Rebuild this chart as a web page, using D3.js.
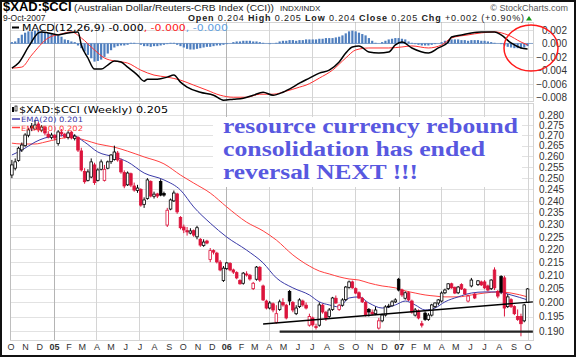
<!DOCTYPE html>
<html><head><meta charset="utf-8">
<script src="https://cdn.jsdelivr.net/npm/d3@7/dist/d3.min.js"></script>
<style>body{margin:0;background:#fff}svg{display:block}text{font-family:"Liberation Sans",Arial,sans-serif}</style>
</head><body><svg id="c" width="576" height="357"></svg>
<script>
// ---------- DATA ----------
const firstWeek = "2004-10-04";
const openP = [.2514,.2545,.2580,.2630,.2650,.2700,.2745,.2730,.2755,.2725,.2740,.2705,.2690,.2700,.2660,.2715,.2705,.2690,.2715,.2685,
.2690,.2625,.2530,.2490,.2505,.2560,.2490,.2540,.2490,.2545,.2575,.2585,.2615,.2580,.2525,.2470,.2520,.2465,.2445,.2450,
.2385,.2410,.2485,.2420,.2430,.2485,.2432,.2298,.2365,.2400,.2430,.2330,.2290,.2275,.2265,.2275,.2250,.2240,.2215,.2233,
.2160,.2195,.2185,.2150,.2080,.2125,.2145,.2120,.2110,.2080,.2070,.2105,.2100,.2050,.2085,.2130,.2060,.2005,.1980,.1995,
.1930,.1975,.2000,.1990,.2040,.2000,.1960,.1985,.2005,.1990,.1920,.1945,.1915,.1920,.1990,.1965,.1950,.1975,.2015,.1975,
.1990,.2010,.2055,.2075,.2050,.2035,.2015,.2000,.1975,.1965,.1960,.1910,.1935,.1955,.1985,.1988,.2002,.2085,.2045,.2015,
.2035,.2005,.1955,.1970,.1925,.1962,.1940,.1955,.1985,.1998,.2005,.2035,.2050,.2068,.2055,.2035,.2065,.2048,.2005,.2060,
.2030,.2065,.2075,.2075,.2060,.2050,.2120,.2040,.2095,.2090,.1985,.2010,.1985,.1950,.1950,.1935,.2000];
const highP = [.2583,.2590,.2645,.2665,.2710,.2735,.2760,.2775,.2765,.2750,.2745,.2720,.2712,.2705,.2725,.2730,.2712,.2720,.2722,.2705,
.2695,.2640,.2545,.2540,.2590,.2570,.2545,.2585,.2560,.2580,.2610,.2650,.2625,.2590,.2535,.2530,.2525,.2480,.2470,.2455,
.2415,.2500,.2490,.2440,.2435,.2495,.2440,.2370,.2410,.2445,.2435,.2335,.2300,.2290,.2285,.2280,.2295,.2245,.2240,.2238,
.2205,.2200,.2190,.2158,.2135,.2150,.2150,.2125,.2115,.2085,.2112,.2115,.2105,.2075,.2135,.2135,.2065,.2010,.2005,.2000,
.1990,.2010,.2015,.1995,.2045,.2005,.1990,.2015,.2010,.2000,.1960,.1950,.1925,.2000,.1995,.1970,.1980,.2020,.2025,.1995,
.2015,.2060,.2080,.2080,.2055,.2040,.2020,.2005,.1980,.1975,.1985,.1945,.1960,.1990,.1995,.2008,.2015,.2090,.2050,.2040,
.2040,.2010,.1980,.1975,.1935,.1968,.1962,.1995,.2000,.2012,.2040,.2050,.2070,.2072,.2058,.2060,.2070,.2052,.2028,.2090,
.2035,.2082,.2080,.2082,.2065,.2085,.2130,.2045,.2100,.2098,.2030,.2015,.1990,.1975,.1960,.1995,.2052];
const lowP = [.2500,.2535,.2575,.2620,.2645,.2690,.2720,.2725,.2715,.2715,.2700,.2685,.2680,.2675,.2650,.2695,.2685,.2680,.2680,.2675,
.2620,.2530,.2475,.2485,.2500,.2470,.2485,.2535,.2485,.2540,.2565,.2580,.2575,.2520,.2455,.2465,.2460,.2440,.2435,.2375,
.2370,.2405,.2415,.2410,.2412,.2420,.2418,.2290,.2360,.2395,.2345,.2280,.2265,.2255,.2260,.2250,.2240,.2210,.2210,.2220,
.2150,.2180,.2145,.2115,.2075,.2120,.2115,.2105,.2085,.2065,.2065,.2095,.2080,.2045,.2080,.2075,.2005,.1975,.1975,.1965,
.1925,.1970,.1985,.1940,.1990,.1965,.1955,.1980,.1985,.1975,.1915,.1915,.1905,.1915,.1960,.1935,.1945,.1970,.1995,.1970,
.1985,.2005,.2050,.2050,.2030,.2012,.1998,.1950,.1950,.1955,.1955,.1905,.1930,.1950,.1980,.1985,.1998,.2040,.2020,.2010,
.2005,.1960,.1950,.1940,.1912,.1935,.1935,.1950,.1980,.1990,.2000,.2030,.2045,.2050,.2030,.2030,.2045,.2028,.2000,.2055,
.2012,.2060,.2060,.2048,.2040,.2045,.2045,.2015,.2030,.1950,.1980,.1980,.1955,.1935,.1882,.1930,.1998];
const closeP = [.2560,.2574,.2638,.2653,.2701,.2726,.2736,.2750,.2726,.2740,.2711,.2692,.2701,.2687,.2716,.2706,.2692,.2711,.2687,.2696,
.2629,.2537,.2484,.2528,.2574,.2480,.2537,.2574,.2540,.2574,.2606,.2620,.2583,.2528,.2465,.2523,.2469,.2447,.2456,.2382,
.2404,.2492,.2421,.2429,.2421,.2425,.2425,.2360,.2404,.2434,.2353,.2287,.2278,.2270,.2274,.2257,.2287,.2217,.2229,.2225,
.2195,.2189,.2151,.2120,.2127,.2147,.2120,.2112,.2090,.2068,.2108,.2101,.2086,.2070,.2131,.2082,.2009,.1980,.1998,.1973,
.1960,.2002,.1991,.1945,.2005,.1973,.1980,.2009,.1991,.1980,.1950,.1921,.1912,.1991,.1966,.1945,.1973,.2016,.1998,.1990,
.2009,.2056,.2075,.2053,.2034,.2016,.2002,.1955,.1966,.1959,.1973,.1935,.1955,.1984,.1987,.2002,.2009,.2045,.2027,.2035,
.2009,.1966,.1973,.1945,.1920,.1940,.1955,.1991,.1998,.2009,.2034,.2045,.2068,.2053,.2034,.2056,.2049,.2031,.2023,.2082,
.2016,.2079,.2064,.2053,.2045,.2082,.2053,.2023,.2038,.1980,.2020,.1985,.1960,.1940,.1925,.1991,.2049];

// EMA lines, read at these week numbers
const emaWeeks = [0,3,7,10,14,18,22,26,31,35,40,46,51,55,60,65,71,76,80,85,90,93,96,99,102,105,108,112,116,119,122,125,128,131,135,139,143,147,151,156];
const ema20 = [.2606,.2629,.2667,.2687,.2696,.2701,.2667,.2620,.2597,.2574,.2523,.2492,.2447,.2374,.2306,.2249,.2197,.2147,.2090,.2053,
.2027,.2002,.1991,.1984,.2016,.2020,.1998,.1980,.1991,.2005,.1991,.1973,.1980,.2002,.2020,.2034,.2038,.2038,.2027,.2009];
const ema50 = [.2662,.2658,.2658,.2667,.2682,.2691,.2677,.2658,.2643,.2624,.2597,.2565,.2514,.2478,.2434,.2374,.2310,.2274,.2237,.2178,
.2135,.2116,.2105,.2094,.2086,.2082,.2071,.2060,.2053,.2042,.2034,.2027,.2023,.2020,.2020,.2027,.2034,.2038,.2034,.2020];

// MACD(12,26,9)
const macdWeeks = [0,2,5,8,9,11,14,17,20,21,23,25,27,29,31,33,35,38,40,41,44,47,49,51,53,57,61,64,67,70,73,76,79,82,85,87,90,93,96,99,
101,103,105,108,111,114,116,118,121,126,129,132,133,136,139,142,146,148,151,154,156];
const macdLine = [-.00366,-.00291,-.00052,.00157,.00172,.00157,.00127,.00157,.00172,-.00022,-.00216,-.00381,-.00381,-.00321,-.00261,-.00276,-.00351,-.00470,-.00560,-.00530,
-.00530,-.00500,-.00470,-.00575,-.00649,-.00724,-.00769,-.00843,-.00828,-.00813,-.00769,-.00724,-.00769,-.00724,-.00649,-.00590,-.00515,-.00440,-.00396,-.00276,
-.00142,-.00052,-.00037,-.00127,-.00142,-.00127,-.00022,.00022,-.00067,-.00142,-.00067,.00022,.00097,.00127,.00157,.00172,.00172,.00127,.00007,-.00067,-.00082];
const sigWeeks = [0,3,6,11,15,18,21,25,28,31,35,39,43,47,51,55,59,63,67,71,75,79,83,87,89,93,97,101,104,108,114,118,121,126,130,133,138,142,146,150,154,156];
const sigLine = [-.00366,-.00351,-.00172,.00082,.00142,.00172,.00082,-.00097,-.00216,-.00261,-.00291,-.00396,-.00470,-.00500,-.00545,-.00619,-.00694,-.00769,-.00799,-.00799,
-.00754,-.00754,-.00709,-.00649,-.00619,-.00515,-.00396,-.00216,-.00097,-.00067,-.00067,-.00052,-.00037,-.00067,-.00022,.00082,.00127,.00157,.00172,.00127,.00022,-.00022];
const histP = [.0002,.0003,.0008,.0013,.0016,.0018,.0018,.0019,.0019,.0018,.0017,.0016,.0015,.0013,.0012,.0010,.0006,.0005,.0003,.0002,
-.0003,-.0007,-.0012,-.0017,-.0022,-.0027,-.0026,-.0024,-.0020,-.0015,-.0010,-.0006,-.0004,-.0003,-.0003,-.0002,.0001,.0001,.0000,-.0002,
-.0004,-.0004,-.0005,-.0004,-.0004,-.0003,-.0002,-.0001,.0001,.0001,-.0002,-.0004,-.0006,-.0008,-.0009,-.0009,-.0008,-.0007,-.0006,-.0005,
-.0005,-.0004,-.0003,-.0003,-.0002,-.0001,.0000,.0002,.0003,.0003,.0004,.0004,.0004,.0003,.0003,.0002,.0001,.0000,-.0001,.0000,
.0001,.0003,.0004,.0004,.0005,.0005,.0004,.0005,.0005,.0006,.0006,.0006,.0006,.0007,.0007,.0008,.0008,.0008,.0009,.0010,
.0012,.0015,.0018,.0019,.0018,.0016,.0014,.0012,.0008,.0004,.0001,.0000,.0002,.0004,.0006,.0007,.0008,.0008,.0007,.0006,
.0003,.0001,-.0001,-.0002,-.0003,-.0003,-.0003,-.0002,-.0001,.0000,.0002,.0004,.0005,.0006,.0006,.0006,.0005,.0005,.0004,.0005,
.0005,.0005,.0004,.0004,.0003,.0002,.0001,.0000,-.0001,-.0003,-.0005,-.0006,-.0007,-.0007,-.0007,-.0006,-.0004];

// annotation trend lines [week, value]
const supportLine = [[76,.1924],[157.6,.2002]];
const floorLine = [[81,.1898],[157.6,.1898]];

const priceTicks = [0.280,0.275,0.270,0.265,0.260,0.255,0.250,0.245,0.240,0.235,0.230,0.225,0.220,0.215,0.210,0.205,0.200,0.195,0.190];
const macdTicks = [0.002,0.000,-0.002,-0.004,-0.006,-0.008];
const monthLabels = ["O","N","D","05","F","M","A","M","J","J","A","S","O","N","D","06","F","M","A","M","J","J","A","S","O","N","D","07","F","M","A","M","J","J","A","S","O"];
const noteLines = ["resource currency rebound","consolidation has ended","reversal NEXT !!!"];

// ---------- CHART ----------
const svg = d3.select("#c");
const X0 = 10, X1 = 533, M_TOP = 22, M_BOT = 101, P_TOP = 103, P_BOT = 340;
const RED = "#dc143c", BLK = "#000";
const t0 = d3.isoParse(firstWeek + "T00:00:00Z");

const x = d3.scaleUtc().domain([new Date(Date.UTC(2004, 8, 30)), new Date(Date.UTC(2007, 9, 12, 12))]).range([X0, X1]);
const y = d3.scaleLog().domain([0.19, 0.28]).range([331, 115]);
const ym = d3.scaleLinear().domain([-0.008, 0.002]).range([97.3, 30]);
const wkx = i => x(t0) + (x(d3.utcDay.offset(t0, 7)) - x(t0)) * i;

svg.append("rect").attr("width", 576).attr("height", 357).attr("fill", "#fff");

const defs = svg.append("defs");
defs.append("clipPath").attr("id", "cm").append("rect").attr("x", X0).attr("y", M_TOP).attr("width", X1 - X0).attr("height", M_BOT - M_TOP);
defs.append("clipPath").attr("id", "cp").append("rect").attr("x", X0).attr("y", P_TOP).attr("width", X1 - X0).attr("height", P_BOT - P_TOP);

const months = d3.utcMonths(new Date(Date.UTC(2004, 9, 1)), new Date(Date.UTC(2007, 9, 2)));
const quarters = months.filter(d => d.getUTCMonth() % 3 === 0);

function vgrid(top, bot) {
  svg.append("g").selectAll("line").data(quarters).join("line")
    .attr("x1", d => Math.round(x(d)) + 0.5).attr("x2", d => Math.round(x(d)) + 0.5)
    .attr("y1", top).attr("y2", bot)
    .attr("stroke", d => d.getUTCMonth() === 0 ? "#b4b4b4" : "#d4d4d4").attr("stroke-width", 1);
}
svg.append("g").selectAll("line").data(macdTicks).join("line")
  .attr("x1", X0).attr("x2", X1).attr("y1", d => Math.round(ym(d)) + 0.5).attr("y2", d => Math.round(ym(d)) + 0.5)
  .attr("stroke", "#dedede");
vgrid(M_TOP, M_BOT);
svg.append("g").selectAll("line").data(priceTicks).join("line")
  .attr("x1", X0).attr("x2", X1).attr("y1", d => Math.round(y(d)) + 0.5).attr("y2", d => Math.round(y(d)) + 0.5)
  .attr("stroke", "#e2e2e2");
vgrid(P_TOP, P_BOT);

[[M_TOP, M_BOT], [P_TOP, P_BOT]].forEach(([a, b]) => {
  svg.append("rect").attr("x", X0 + 0.5).attr("y", a + 0.5).attr("width", X1 - X0).attr("height", b - a)
    .attr("fill", "none").attr("stroke", "#a8a8a8").attr("stroke-dasharray", "1,1");
});

// ---- MACD ----
const gm = svg.append("g").attr("clip-path", "url(#cm)");
gm.selectAll("rect.h").data(histP).join("rect").attr("class", "h")
  .attr("x", (d, i) => wkx(i) - 1.1).attr("width", 2.2)
  .attr("y", d => Math.min(ym(d), ym(0))).attr("height", d => Math.abs(ym(d) - ym(0)))
  .attr("fill", "#4f7fbf");
gm.append("line").attr("x1", X0).attr("x2", X1).attr("y1", ym(0)).attr("y2", ym(0)).attr("stroke", "#4f7fbf").attr("stroke-width", 0.6);
const lineM = d3.line().x(d => wkx(d[0])).y(d => ym(d[1])).curve(d3.curveMonotoneX);
gm.append("path").attr("d", lineM(sigWeeks.map((w, i) => [w, sigLine[i]]))).attr("fill", "none").attr("stroke", "#ff3030").attr("stroke-width", 1);
gm.append("path").attr("d", lineM(macdWeeks.map((w, i) => [w, macdLine[i]]))).attr("fill", "none").attr("stroke", "#000").attr("stroke-width", 1.5);

const am = svg.append("g").attr("transform", `translate(${X1},0)`)
  .call(d3.axisRight(ym).tickValues(macdTicks).tickSize(0).tickFormat(d3.format(".3f")));
am.select(".domain").remove();
am.selectAll("text").attr("x", 34).attr("text-anchor", "end").attr("font-size", 10).attr("fill", "#333")
  .style("font-family", '"Liberation Sans",Arial,sans-serif');

// ---- PRICE ----
const gp = svg.append("g").attr("clip-path", "url(#cp)");
const lineP = d3.line().x(d => wkx(d[0])).y(d => y(d[1])).curve(d3.curveMonotoneX);
const lineL = d3.line().x(d => wkx(d[0])).y(d => y(d[1]));
gp.append("path").attr("d", lineP(emaWeeks.map((w, i) => [w, ema50[i]]))).attr("fill", "none").attr("stroke", "#ff4040").attr("stroke-width", 1);
gp.append("path").attr("d", lineP(emaWeeks.map((w, i) => [w, ema20[i]]))).attr("fill", "none").attr("stroke", "#3a3aa8").attr("stroke-width", 1);

const candles = closeP.map((c, i) => ({ i, o: openP[i], h: highP[i], l: lowP[i], c, col: (i > 0 && c < closeP[i - 1]) ? RED : BLK }));
const cg = gp.selectAll("g.c").data(candles).join("g").attr("class", "c");
cg.append("line").attr("x1", d => wkx(d.i)).attr("x2", d => wkx(d.i))
  .attr("y1", d => y(d.h)).attr("y2", d => y(d.l)).attr("stroke", d => d.col).attr("stroke-width", 1);
cg.append("rect").attr("x", d => wkx(d.i) - 1.3).attr("width", 2.6)
  .attr("y", d => y(Math.max(d.o, d.c))).attr("height", d => Math.max(0.8, Math.abs(y(d.o) - y(d.c))))
  .attr("fill", d => d.c > d.o ? "#fff" : d.col).attr("stroke", d => d.col).attr("stroke-width", 0.8);

gp.append("path").attr("d", lineL(supportLine)).attr("stroke", "#000").attr("stroke-width", 1.3).attr("fill", "none");
gp.append("path").attr("d", lineL(floorLine)).attr("stroke", "#222").attr("stroke-width", 2.2).attr("fill", "none");

const ap = svg.append("g").attr("transform", `translate(${X1},0)`)
  .call(d3.axisRight(y).tickValues(priceTicks).tickSize(0).tickPadding(6).tickFormat(d3.format(".3f")));
ap.select(".domain").remove();
ap.selectAll("text").attr("font-size", 10).attr("fill", "#333").style("font-family", '"Liberation Sans",Arial,sans-serif');

const ax = svg.append("g").attr("transform", `translate(0,${P_BOT})`)
  .call(d3.axisBottom(x).tickValues(months).tickSize(0).tickPadding(4).tickFormat((d, i) => monthLabels[i]));
ax.select(".domain").remove();
ax.selectAll("text").attr("font-size", 9).attr("fill", "#333")
  .attr("font-weight", (d, i) => monthLabels[i].length > 1 ? "bold" : "normal")
  .style("font-family", '"Liberation Sans",Arial,sans-serif');

// note box
svg.append("rect").attr("x", 213).attr("y", 117).attr("width", 309).attr("height", 70).attr("fill", "#fff");
const noteW = [295, 262, 195];
svg.append("g").selectAll("text").data(noteLines).join("text")
  .attr("x", 223).attr("y", (d, i) => 133 + i * 23)
  .attr("textLength", (d, i) => noteW[i]).attr("lengthAdjust", "spacingAndGlyphs")
  .style("font-family", '"Liberation Serif","Times New Roman",serif').attr("font-weight", "bold").attr("font-size", 20)
  .attr("fill", "#5858e0").text(d => d);

svg.append("ellipse").attr("cx", 531).attr("cy", 48).attr("rx", 27).attr("ry", 23)
  .attr("fill", "none").attr("stroke", "#ff1a1a").attr("stroke-width", 1.5);

// header
svg.append("text").attr("x", 3).attr("y", 11).attr("font-size", 13).attr("font-weight", "bold").text("$XAD:$CCI");
svg.append("text").attr("x", 74).attr("y", 11).attr("font-size", 9.5).attr("fill", "#222")
  .attr("textLength", 200).attr("lengthAdjust", "spacingAndGlyphs").text("(Australian Dollar/Reuters-CRB Index (CCI))");
svg.append("text").attr("x", 280).attr("y", 11).attr("font-size", 8).attr("fill", "#222").text("INDX/INDX");
svg.append("text").attr("x", 568).attr("y", 10.5).attr("text-anchor", "end").attr("font-size", 9).attr("fill", "#555").text("© StockCharts.com");
svg.append("text").attr("x", 3).attr("y", 21).attr("font-size", 8.5).attr("fill", "#222").text("9-Oct-2007");
const hdr = svg.append("text").attr("x", 188).attr("y", 21).attr("font-size", 9).attr("fill", "#222")
  .attr("textLength", 336).attr("lengthAdjust", "spacing");
[["Open", 1], [" 0.204 ", 0], ["High", 1], [" 0.205 ", 0], ["Low", 1], [" 0.204 ", 0], ["Close", 1], [" 0.205 ", 0], ["Chg", 1], [" +0.002 (+0.90%)", 0]]
  .forEach(([t, b]) => hdr.append("tspan").attr("font-weight", b ? "bold" : "normal").text(t));
svg.append("path").attr("d", "M526,20.5 L529,16 L532,20.5 Z").attr("fill", "#1a9a1a");

// MACD legend
svg.append("line").attr("x1", 12).attr("x2", 19).attr("y1", 27.5).attr("y2", 27.5).attr("stroke", "#000").attr("stroke-width", 2);
const ml = svg.append("text").attr("x", 22).attr("y", 31).attr("font-size", 8.5).style("font-family", '"DejaVu Sans",Verdana,sans-serif')
  .attr("textLength", 206).attr("lengthAdjust", "spacingAndGlyphs");
ml.append("tspan").attr("fill", "#000").text("MACD(12,26,9) -0.000");
ml.append("tspan").attr("fill", "#ff2020").text(", -0.000");
ml.append("tspan").attr("fill", "#5fa0e0").text(", -0.000");

// price legend
const lg = svg.append("g");
lg.append("rect").attr("x", 12).attr("y", 107).attr("width", 2).attr("height", 5).attr("fill", "#000");
lg.append("rect").attr("x", 15).attr("y", 106).attr("width", 2).attr("height", 5).attr("fill", "#fff").attr("stroke", "#000").attr("stroke-width", 0.7);
lg.append("text").attr("x", 19).attr("y", 112.5).attr("font-size", 8.5).style("font-family", '"DejaVu Sans",Verdana,sans-serif')
  .attr("textLength", 149).attr("lengthAdjust", "spacingAndGlyphs").text("$XAD:$CCI (Weekly) 0.205");
lg.append("line").attr("x1", 12).attr("x2", 20).attr("y1", 119).attr("y2", 119).attr("stroke", "#3a3aa8").attr("stroke-width", 1.5);
lg.append("text").attr("x", 21).attr("y", 121.8).attr("font-size", 7.3).attr("fill", "#3a3aa8").style("font-family", '"DejaVu Sans",Verdana,sans-serif')
  .attr("textLength", 62).attr("lengthAdjust", "spacingAndGlyphs").text("EMA(20) 0.201");
lg.append("line").attr("x1", 12).attr("x2", 20).attr("y1", 127.5).attr("y2", 127.5).attr("stroke", "#ff4040").attr("stroke-width", 1.5);
lg.append("text").attr("x", 21).attr("y", 130.5).attr("font-size", 7.3).attr("fill", "#ff4040").style("font-family", '"DejaVu Sans",Verdana,sans-serif')
  .attr("textLength", 62).attr("lengthAdjust", "spacingAndGlyphs").text("EMA(50) 0.202");

svg.append("rect").attr("x", 1).attr("y", 1).attr("width", 574).attr("height", 355).attr("fill", "none").attr("stroke", "#111").attr("stroke-width", 2);
</script></body></html>
